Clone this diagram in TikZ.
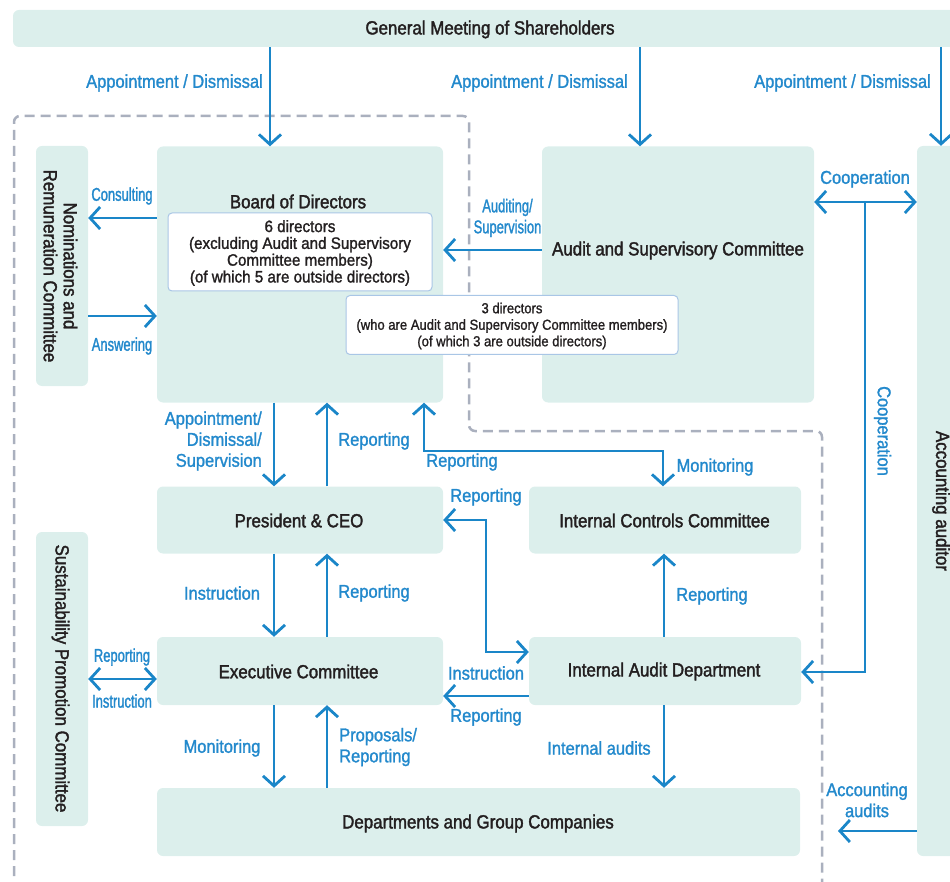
\documentclass[tikz,border=0pt]{standalone}
\usepackage{fontspec}
\setmainfont{Liberation Sans}
\newfontfamily\boxfont{Liberation Sans}[FakeStretch=0.89,FakeBold=1.8]
\newfontfamily\labfont{Liberation Sans}[FakeStretch=0.89,FakeBold=1.4]
\newfontfamily\narfont{Liberation Sans}[FakeStretch=0.7,FakeBold=1.4]
\newfontfamily\cardfont{Liberation Sans}[FakeStretch=0.92,FakeBold=1.4]
\newfontfamily\cardfontb{Liberation Sans}[FakeStretch=0.9,FakeBold=1.2]
\usetikzlibrary{arrows.meta}

\definecolor{boxfill}{HTML}{DCEFEC}
\definecolor{flow}{HTML}{1A86C8}
\definecolor{labelblue}{HTML}{2389CC}
\definecolor{ink}{HTML}{231F20}
\definecolor{framegray}{HTML}{AAB0BE}
\definecolor{cardline}{HTML}{A9C6E6}

\begin{document}
\begin{tikzpicture}[x=1pt,y=-1pt,
  box/.style={fill=boxfill, draw=none, rounded corners=6pt, inner sep=0pt},
  card/.style={fill=white, draw=cardline, line width=1pt, rounded corners=4pt, inner sep=0pt},
  txt/.style={text=ink, font=\boxfont\fontsize{19}{20}\selectfont, inner sep=0pt, align=center},
  lab/.style={text=labelblue, font=\labfont\fontsize{18.5}{21}\selectfont, inner sep=0pt, align=center},
  nlab/.style={text=labelblue, font=\narfont\fontsize{18.5}{21}\selectfont, inner sep=0pt, align=center},
  tipb/.tip={Straight Barb[length=10pt,width=22pt]},
  arr/.style={draw=flow, line width=2.8pt, -tipb},
  both/.style={draw=flow, line width=2.8pt, tipb-tipb}
]
\useasboundingbox (0,0) rectangle (950,882);

% dashed outline of the board / supervisory area
\draw[framegray, line width=2.5pt, dash pattern=on 10pt off 6pt, rounded corners=6pt]
  (14,892) -- (14,116) -- (469,116) -- (469,431) -- (822,431) -- (822,892);

% boxes
\node[box, minimum width=957pt, minimum height=37pt] (gm) at (491.5,28.5) {};
\node[box, minimum width=52pt, minimum height=240pt] (nom) at (62,266) {};
\node[box, minimum width=286pt, minimum height=256pt] (board) at (300,274.5) {};
\node[box, minimum width=272pt, minimum height=256pt] (asc) at (678,274.5) {};
\node[box, minimum width=53pt, minimum height=710pt] (acc) at (943.5,501) {};
\node[box, minimum width=286pt, minimum height=67pt] (ceo) at (300,520) {};
\node[box, minimum width=272pt, minimum height=67pt] (icc) at (665,520) {};
\node[box, minimum width=286pt, minimum height=68pt] (exec) at (300,671) {};
\node[box, minimum width=272pt, minimum height=68pt] (iad) at (665,671) {};
\node[box, minimum width=52pt, minimum height=294pt] (sus) at (62,679) {};
\node[box, minimum width=643pt, minimum height=68pt] (dept) at (478.5,822) {};

% box texts
\node[txt] (gmtext) at (490,29.5) {General Meeting of Shareholders};
\node[txt, rotate=-90] (nomtext) at (60.5,266) {Nominations and\\Remuneration Committee};
\node[txt] (boardtext) at (298,201.5) {Board of Directors};
\node[txt] (asctext) at (678,250.5) {Audit and Supervisory Committee};
\node[txt, rotate=-90] (acctext) at (941,501) {Accounting auditor};
\node[txt] (ceotext) at (299,520.5) {President \& CEO};
\node[txt] (icctext) at (664.5,520.5) {Internal Controls Committee};
\node[txt] (exectext) at (298.5,671.5) {Executive Committee};
\node[txt] (iadtext) at (664,671.5) {Internal Audit Department};
\node[txt, rotate=-90] (sustext) at (60.5,678.5) {Sustainability Promotion Committee};
\node[txt] (depttext) at (478,823.5) {Departments and Group Companies};

% director cards
\node[card, minimum width=264pt, minimum height=78pt] (cardsix) at (300,252) {};
\node[text=ink, font=\cardfont\fontsize{16.5}{16.8}\selectfont, align=center, inner sep=0pt]
  (cardsixtext) at (300,253)
  {6 directors\\(excluding Audit and Supervisory\\Committee members)\\(of which 5 are outside directors)};
\node[card, minimum width=332pt, minimum height=59pt] (cardthree) at (512,325) {};
\node[text=ink, font=\cardfontb\fontsize{14.5}{16.5}\selectfont, align=center, inner sep=0pt]
  (cardthreetext) at (512,326)
  {3 directors\\(who are Audit and Supervisory Committee members)\\(of which 3 are outside directors)};

% shareholders' meeting
\draw[arr] (gm.south -| 270,0) -- (board.north -| 270,0);
\draw[arr] (gm.south -| 640,0) -- (asc.north -| 640,0);
\draw[arr] (gm.south -| 941,0) -- (acc.north -| 941,0);
\node[lab, anchor=east] at (263,83) {Appointment / Dismissal};
\node[lab, anchor=east] at (628,83) {Appointment / Dismissal};
\node[lab, anchor=east] at (931,83) {Appointment / Dismissal};

% nominations committee
\draw[arr] (board.west |- 0,218) -- (nom.east |- 0,218);
\draw[arr] (nom.east |- 0,316) -- (board.west |- 0,316);
\node[nlab] at (122,196) {Consulting};
\node[nlab] at (122,346) {Answering};

% audit and supervisory committee
\draw[arr] (asc.west |- 0,250) -- (board.east |- 0,250);
\node[nlab] at (507.5,218) {Auditing/\\Supervision};

% cooperation with the accounting auditor
\draw[both] (asc.east |- 0,202) -- (acc.west |- 0,202);
\coordinate (coop) at (865,202);
\draw[arr] (coop) |- (iad.east |- 0,672);
\node[lab] at (865,179) {Cooperation};
\node[lab, rotate=-90] at (882.5,431) {Cooperation};

% accounting audits
\coordinate (auditend) at (838,831);
\draw[arr] (acc.west |- 0,831) -- (auditend);
\node[lab] at (867,800) {Accounting\\audits};

% board and president
\draw[arr] (board.south -| 274,0) -- (ceo.north -| 274,0);
\draw[arr] (ceo.north -| 327,0) -- (board.south -| 327,0);
\node[lab, align=right, anchor=east] at (262,441) {Appointment/\\Dismissal/\\Supervision};
\node[lab] at (374,441) {Reporting};

% board and internal controls committee
\draw[both] (board.south -| 424,0) -- (424,451) -| (icc.north -| 663,0);
\node[lab] at (462,462) {Reporting};
\node[lab] at (715,467) {Monitoring};

% president and internal audit department
\draw[both] (ceo.east |- 0,520) -- (486,520) |- (iad.west |- 0,652);
\node[lab] at (486,497) {Reporting};

% internal audit department
\draw[arr] (iad.north -| 664,0) -- (icc.south -| 664,0);
\node[lab] at (712,596) {Reporting};
\draw[arr] (iad.west |- 0,696) -- (exec.east |- 0,696);
\node[lab] at (486,673) {Instruction};
\node[lab] at (486,717) {Reporting};
\draw[arr] (iad.south -| 664,0) -- (dept.north -| 664,0);
\node[lab] at (599,748) {Internal audits};

% president and executive committee
\draw[arr] (ceo.south -| 274,0) -- (exec.north -| 274,0);
\draw[arr] (exec.north -| 327,0) -- (ceo.south -| 327,0);
\node[lab] at (222,593) {Instruction};
\node[lab] at (374,593) {Reporting};

% sustainability committee
\draw[both] (sus.east |- 0,679) -- (exec.west |- 0,679);
\node[nlab] at (122,657) {Reporting};
\node[nlab] at (122,701) {Instruction};

% executive committee and departments
\draw[arr] (exec.south -| 274,0) -- (dept.north -| 274,0);
\draw[arr] (dept.north -| 327,0) -- (exec.south -| 327,0);
\node[lab] at (222,748) {Monitoring};
\node[lab, align=left, anchor=west] at (339,747) {Proposals/\\Reporting};
\end{tikzpicture}
\end{document}
